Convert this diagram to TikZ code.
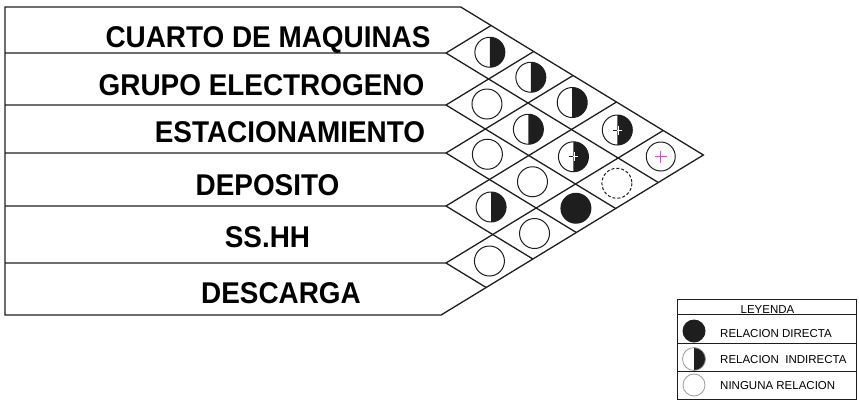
\documentclass[tikz,border=0pt]{standalone}
\usepackage{fontspec}
\setmainfont{Liberation Sans}
\newfontfamily\roomfont[FakeStretch=0.93]{Liberation Sans}
\usetikzlibrary{calc}
\definecolor{ink}{HTML}{1E1E1E}
\definecolor{faint}{HTML}{9A9A9A}
\definecolor{crosspink}{HTML}{C455C4}

\tikzset{
  pics/half/.style={code={
    \fill[ink] (0,-15) arc[start angle=-90,end angle=90,radius=15] -- cycle;
    \draw[rel] (0,0) circle[radius=15];}},
  pics/halfx/.style={code={
    \pic {half};
    \draw[ink,line width=0.8pt] (-4.5,0) -- (0,0);
    \draw[white,line width=0.8pt] (0,0) -- (4.5,0) (0.6,-4.5) -- (0.6,4.5);}},
  pics/none/.style={code={\draw[rel] (0,0) circle[radius=15];}},
  pics/nonex/.style={code={
    \draw[rel] (0,0) circle[radius=14.5];
    \draw[draw=crosspink,line width=0.7pt] (-6,0) -- (6,0) (0,-6) -- (0,6);}},
  pics/dash/.style={code={\draw[rel,dash pattern=on 3pt off 2pt] (0,0) circle[radius=15];}},
  pics/full/.style={code={\fill[ink] (0,0) circle[radius=15.5];}},
}

\begin{document}
\begin{tikzpicture}[x=1pt,y=-1pt,
  grid/.style={draw=ink,line width=1.3pt},
  rel/.style={draw=ink,line width=1pt},
  room/.style={anchor=base,inner sep=0pt,font=\roomfont\bfseries\fontsize{30}{30}\selectfont},
  key/.style={anchor=base west,inner sep=0pt,font=\fontsize{11.5}{12}\selectfont}]
\useasboundingbox (0,0) rectangle (859,405);
\def\slope{0.61}
\def\mids{{25.5,79,129,179.5,234.5,287.5}}
% room column and matrix outline
\coordinate (tl) at (5,7);
\coordinate (bl) at (5,315);
\coordinate (tip) at ({446+314/(2*\slope)},155);
\draw[grid] (bl) -- (tl) -- ({446+9/\slope},7) -- (tip) -- ({446-3/\slope},315) -- cycle;
\foreach \y in {53,105,153,206,263}{
  \draw[grid] (5,\y) -- (446,\y) -- ++({(312-\y)/(2*\slope)},{(312-\y)/2});
  \draw[grid] (446,\y) -- ++({(\y+2)/(2*\slope)},{-(\y+2)/2});
}
\node[room] (cuarto) at (268,47) {CUARTO DE MAQUINAS};
\node[room] (grupo) at (261.5,95) {GRUPO ELECTROGENO};
\node[room] (estac) at (290,142) {ESTACIONAMIENTO};
\node[room] (deposito) at (267.5,195) {DEPOSITO};
\node[room] (sshh) at (267.5,247) {SS.HH};
\node[room] (descarga) at (281,303) {DESCARGA};
% relations
\foreach \i/\j/\kind in {0/1/half,0/2/half,0/3/half,0/4/halfx,0/5/nonex,
    1/2/none,1/3/half,1/4/halfx,1/5/dash,2/3/none,2/4/none,2/5/full,
    3/4/half,3/5/none,4/5/none}{
  \pgfmathsetmacro\mi{\mids[\i]}
  \pgfmathsetmacro\mj{\mids[\j]}
  \coordinate (c\i\j) at ({446+(\mj-\mi)/(2*\slope)},{(\mi+\mj)/2});
  \pic at (c\i\j) {\kind};
}
% legend
\draw[ink,line width=1pt] (677,299) rectangle (856,399);
\draw[ink,line width=0.8pt] (677,314.5) -- (856,314.5) (677,343) -- (856,343) (677,371) -- (856,371);
\node[key,anchor=base] (leyenda) at (767.5,313) {LEYENDA};
\fill[ink] (694,331) circle[radius=11.5];
\fill[ink] (694,347.5) arc[start angle=-90,end angle=90,radius=11.5] -- cycle;
\draw[faint,line width=0.8pt] (694,359) circle[radius=11.5];
\draw[faint,line width=0.8pt] (694,385) circle[radius=11];
\node[key] (directa) at (720,337) {RELACION DIRECTA};
\node[key] (indirecta) at (720,363) {RELACION\ \ INDIRECTA};
\node[key] (ninguna) at (720,389) {NINGUNA RELACION};
\end{tikzpicture}
\end{document}
